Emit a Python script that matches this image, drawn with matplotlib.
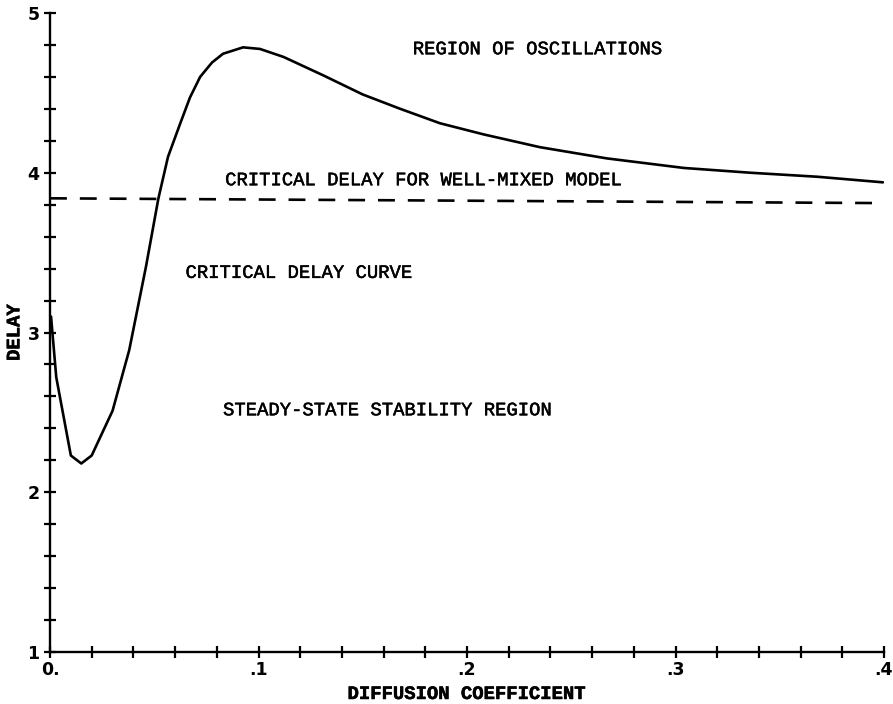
import matplotlib
matplotlib.use("Agg")
import matplotlib.pyplot as plt
import matplotlib.patheffects as pe
from matplotlib.ticker import MultipleLocator, FixedLocator, FixedFormatter

# Critical delay curve (diffusion coefficient vs delay)
curve_x = [0.0005, 0.003, 0.010, 0.015, 0.020, 0.030, 0.038, 0.046, 0.052,
           0.0566, 0.0625, 0.0671, 0.072, 0.0777, 0.083, 0.0926, 0.1007,
           0.112, 0.131, 0.150, 0.168, 0.187, 0.208, 0.235, 0.267, 0.304,
           0.336, 0.368, 0.3995]
curve_y = [3.10, 2.72, 2.23, 2.18, 2.23, 2.51, 2.89, 3.41, 3.84,
           4.10, 4.31, 4.47, 4.60, 4.69, 4.745, 4.785, 4.775,
           4.725, 4.61, 4.49, 4.40, 4.31, 4.24, 4.16, 4.09, 4.03,
           4.00, 3.975, 3.94]

# Critical delay for well-mixed model
wm_x = [0.0, 0.4]
wm_y = [3.84, 3.81]

x_tick_vals = [0.0, 0.1, 0.2, 0.3, 0.4]
x_tick_labels = ["0.", ".1", ".2", ".3", ".4"]
y_tick_vals = [1, 2, 3, 4, 5]
y_tick_labels = ["1", "2", "3", "4", "5"]

annotations = [
    ("REGION OF OSCILLATIONS", 0.174, 4.77),
    ("CRITICAL DELAY FOR WELL-MIXED MODEL", 0.084, 3.95),
    ("CRITICAL DELAY CURVE", 0.065, 3.37),
    ("STEADY-STATE STABILITY REGION", 0.083, 2.51),
]

fig = plt.figure(figsize=(8.93, 7.04), dpi=100)
ax = fig.add_axes([50/893, 1-652/704, (884-50)/893, (652-13)/704])

ax.plot(curve_x, curve_y, color="black", lw=1.9, solid_joinstyle="round",
        solid_capstyle="round")
ax.plot(wm_x, wm_y, color="black", lw=1.9, dashes=(6.4, 4.9))

for txt, x, y in annotations:
    ax.text(x, y, txt, family="Liberation Mono", fontsize=13.6, ha="left", va="center",
            path_effects=[pe.withStroke(linewidth=0.35, foreground="black")])

ax.set_xlim(0, 0.4)
ax.set_ylim(1, 5)
for s in ["top", "right"]:
    ax.spines[s].set_visible(False)
for s in ["left", "bottom"]:
    ax.spines[s].set_linewidth(1.7)

ax.xaxis.set_major_locator(FixedLocator(x_tick_vals))
ax.xaxis.set_major_formatter(FixedFormatter(x_tick_labels))
ax.xaxis.set_minor_locator(MultipleLocator(0.02))
ax.yaxis.set_major_locator(FixedLocator(y_tick_vals))
ax.yaxis.set_major_formatter(FixedFormatter(y_tick_labels))
ax.yaxis.set_minor_locator(MultipleLocator(0.2))

ax.tick_params(which="both", direction="inout", length=9, width=1.6, color="black")
ax.tick_params(axis="x", which="major", pad=2)
ax.tick_params(axis="y", which="major", pad=3)
for lab in ax.get_xticklabels() + ax.get_yticklabels():
    lab.set_fontfamily("DejaVu Sans")
    lab.set_fontweight("bold")
    lab.set_fontsize(12.5)

ax.set_xlabel("DIFFUSION COEFFICIENT", family="Liberation Mono", fontweight="bold",
              fontsize=13.6, labelpad=5,
              path_effects=[pe.withStroke(linewidth=0.4, foreground="black")])
ax.set_ylabel("DELAY", family="Liberation Mono", fontweight="bold", fontsize=13.6,
              labelpad=3,
              path_effects=[pe.withStroke(linewidth=0.4, foreground="black")])

fig.savefig("out.png", dpi=100)
